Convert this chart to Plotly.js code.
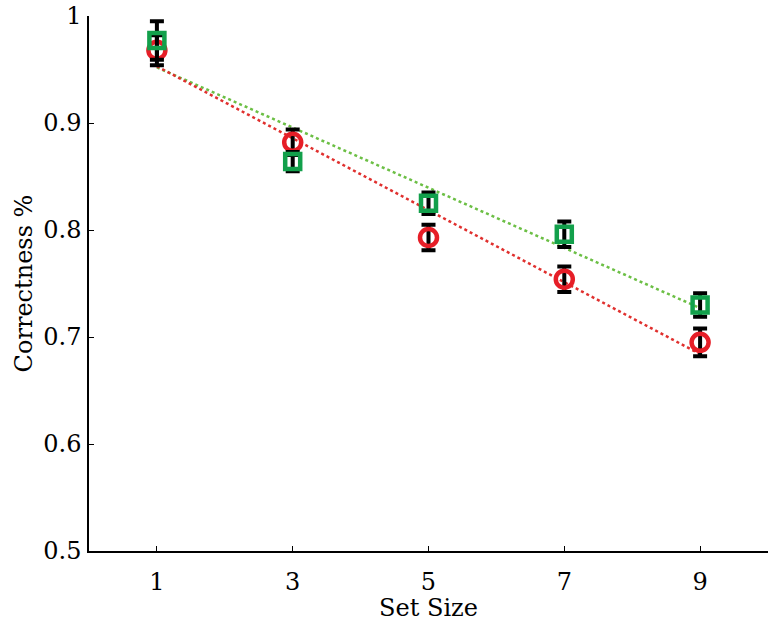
<!DOCTYPE html>
<html>
<head>
<meta charset="utf-8">
<script src="https://cdn.plot.ly/plotly-3.0.1.min.js"></script>
<style>
  body { margin: 0; background: #fff; }
  #plot { width: 775px; height: 622px; }
</style>
</head>
<body>
<div id="plot"></div>
<script>
// set sizes
var setSize = [1, 3, 5, 7, 9];

// red circles
var redMean = [0.968, 0.882, 0.793, 0.754, 0.695];
var redErr = [0.014, 0.012, 0.012, 0.012, 0.013];

// green squares
var greenMean = [0.977, 0.864, 0.825, 0.796, 0.730];
var greenErr = [0.018, 0.009, 0.010, 0.012, 0.011];

// dotted fit lines (end points)
var fitX = [1, 9];
var redFit = [0.953, 0.684];
var greenFit = [0.952, 0.727];

var yTicks = [0.5, 0.6, 0.7, 0.8, 0.9, 1];
var yTickText = ['0.5', '0.6', '0.7', '0.8', '0.9', '1'];

var font = 'DejaVu Serif, Liberation Serif, serif';

var greenLine = {
    x: fitX, y: greenFit, mode: 'lines', type: 'scatter',
    line: {color: '#6cbf45', width: 2.5, dash: 'dot'},
    hoverinfo: 'skip'
};
var redLine = {
    x: fitX, y: redFit, mode: 'lines', type: 'scatter',
    line: {color: '#e0302e', width: 2.5, dash: 'dot'},
    hoverinfo: 'skip'
};

var redPts = {
    x: setSize, y: redMean, mode: 'markers', type: 'scatter',
    marker: {symbol: 'circle-open', size: 17, color: '#e61e27', line: {width: 4.5, color: '#e61e27'}},
    error_y: {type: 'data', array: redErr, visible: true, color: '#000', thickness: 4, width: 7}
};
var greenPts = {
    x: setSize, y: greenMean, mode: 'markers', type: 'scatter',
    marker: {symbol: 'square-open', size: 15, color: '#12a04b', line: {width: 4.5, color: '#12a04b'}},
    error_y: {type: 'data', array: greenErr, visible: true, color: '#000', thickness: 4, width: 7}
};

var layout = {
    width: 775, height: 622,
    margin: {l: 89, r: 7, t: 16, b: 71},
    paper_bgcolor: '#fff', plot_bgcolor: '#fff',
    showlegend: false,
    font: {family: font, color: '#000', size: 23},
    xaxis: {
        range: [0, 10],
        tickvals: setSize,
        ticks: 'inside', ticklen: 5, tickwidth: 1.2, tickcolor: '#000',
        showline: true, linecolor: '#000', linewidth: 1.5,
        showgrid: false, zeroline: false,
        ticklabelstandoff: 8,
        tickfont: {family: font, size: 24},
        title: {text: 'Set Size', font: {family: font, size: 24}, standoff: 2}
    },
    yaxis: {
        range: [0.5, 1],
        tickvals: yTicks, ticktext: yTickText,
        ticks: 'inside', ticklen: 5, tickwidth: 1.2, tickcolor: '#000',
        showline: true, linecolor: '#000', linewidth: 1.5,
        showgrid: false, zeroline: false,
        ticklabelstandoff: 1,
        tickfont: {family: font, size: 24},
        title: {text: 'Correctness %', font: {family: font, size: 24}, standoff: 4}
    }
};

Plotly.newPlot('plot', [greenLine, redLine, redPts, greenPts], layout, {displayModeBar: false});
</script>
</body>
</html>
